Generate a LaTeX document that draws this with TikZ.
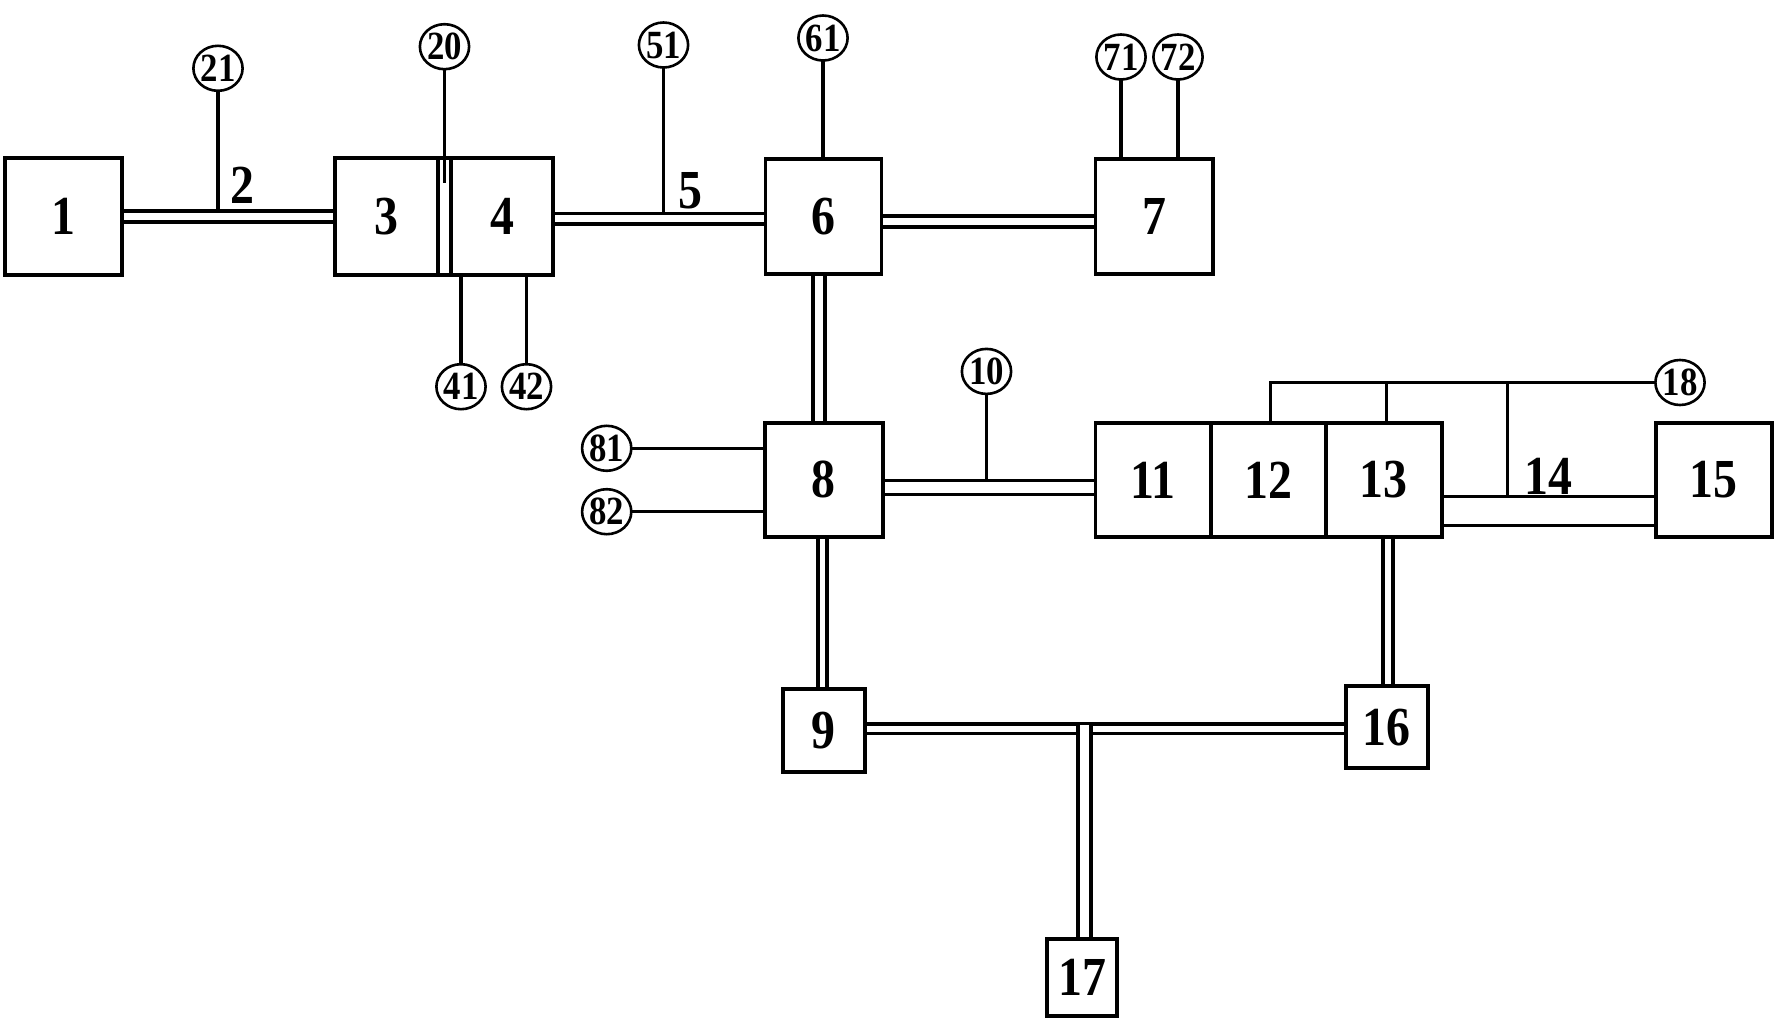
\documentclass[tikz,border=0pt]{standalone}
\usepackage{fontspec}
\usetikzlibrary{backgrounds,shapes.geometric}
\newfontfamily\numfont[FakeStretch=0.87]{Liberation Serif}
\newcommand\bignumfont{\numfont\bfseries\fontsize{55}{60}\selectfont}
\newcommand\smallnumfont{\numfont\bfseries\fontsize{40}{42}\selectfont}
\begin{document}
\begin{tikzpicture}[x=1pt,y=-1pt,
  box/.style={draw, line width=3.8pt, inner sep=0pt, outer sep=0pt, font=\bignumfont},
  circ/.style={ellipse, draw, line width=2.6pt, minimum width=48.5pt, minimum height=45pt, inner sep=0pt, outer sep=0pt, font=\smallnumfont},
  wire/.style={line width=3.4pt},
  rail/.style={line width=3.7pt, double=white, double distance=#1},
  rail/.default=7pt,
  lbl/.style={inner sep=0pt, font=\bignumfont}]
\useasboundingbox (0,0) rectangle (1786,1024);

% boxes
\node[box, minimum width=117pt, minimum height=116.7pt] (b1) at (63.2,216.7) {1};
\node[box, minimum width=103pt, minimum height=116.7pt] (b3) at (386.5,216.7) {3};
\node[box, minimum width=102pt, minimum height=116.7pt] (b4) at (502,216.7) {4};
\node[box, minimum width=116pt, minimum height=115pt] (b6) at (823.5,216.5) {6};
\node[box, minimum width=117.4pt, minimum height=115pt] (b7) at (1154.1,216.5) {7};
\node[box, minimum width=117.7pt, minimum height=114pt] (b8) at (823.9,479.7) {8};
\node[box, minimum width=115.6pt, minimum height=114.3pt] (b11) at (1153.2,479.9) {11};
\node[box, minimum width=115pt, minimum height=114.3pt] (b12) at (1268.5,479.9) {12};
\node[box, minimum width=115.7pt, minimum height=114.3pt] (b13) at (1383.9,479.9) {13};
\node[box, minimum width=115.7pt, minimum height=114.6pt] (b15) at (1713.9,480) {15};
\node[box, minimum width=82.3pt, minimum height=82.4pt] (b9) at (823.9,730.5) {9};
\node[box, minimum width=82pt, minimum height=82.3pt] (b16) at (1386.7,727.2) {16};
\node[box, minimum width=70pt, minimum height=76.7pt] (b17) at (1082.3,977.7) {17};

% circled reference numbers
\node[circ] (c21) at (218,68.3) {21};
\node[circ] (c20) at (444.5,46.7) {20};
\node[circ] (c41) at (461,386.7) {41};
\node[circ] (c42) at (526.5,386.7) {42};
\node[circ] (c51) at (663.5,45) {51};
\node[circ] (c61) at (823,38) {61};
\node[circ] (c71) at (1121,57) {71};
\node[circ] (c72) at (1178,57) {72};
\node[circ] (c10) at (986.5,371.4) {10};
\node[circ] (c81) at (606.7,448.3) {81};
\node[circ] (c82) at (606.7,511.7) {82};
\node[circ] (c18) at (1680,382.5) {18};

% free labels
\node[lbl] (l2) at (242,185) {2};
\node[lbl] (l5) at (690.4,191) {5};
\node[lbl] (l14) at (1548,476.7) {14};

% junction points
\coordinate (k1) at (1270.6,382.5);
\coordinate (k2) at (1386.6,382.5);
\coordinate (k3) at (1507.5,382.5);
\coordinate (tj) at (1084.5,725.3);

\begin{scope}[on background layer]
  % double connectors
  \draw[rail=7pt] (b1.east) -- (b3.west);
  \draw[rail=7pt] (b4.east |- 0,219) -- (b6.west |- 0,219);
  \draw[rail=7pt] (b6.east |- 0,221.4) -- (b7.west |- 0,221.4);
  \draw[rail=8pt] (b6.south -| 819,0) -- (b8.north -| 819,0);
  \draw[rail=5pt] (b8.south -| 822.5,0) -- (b9.north -| 822.5,0);
  \draw[rail=10.5pt] (b8.east |- 0,487.5) -- (b11.west |- 0,487.5);
  \draw[rail=6pt] (b13.south -| 1388,0) -- (b16.north -| 1388,0);
  \draw[rail=5.7pt] (b9.east |- 0,728.7) -- (b16.west |- 0,728.7);
  \draw[rail=8.7pt] (tj) -- (tj |- b17.north);
  % joint between 3 and 4
  \draw[line width=3.8pt] (b3.north east) -- (b4.north west);
  \draw[line width=3.8pt] (b3.south east) -- (b4.south west);
  % single leads
  \draw[wire] (c21.south) -- (c21.south |- 0,211);
  \draw[wire] (c20.south) -- (c20.south |- 0,183.3);
  \draw[wire] (c41.north) -- (c41.north |- b4.south);
  \draw[wire] (c42.north) -- (c42.north |- b4.south);
  \draw[wire] (c51.south) -- (c51.south |- 0,214.5);
  \draw[wire] (c61.south) -- (c61.south |- b6.north);
  \draw[wire] (c71.south) -- (c71.south |- b7.north);
  \draw[wire] (c72.south) -- (c72.south |- b7.north);
  \draw[wire] (c10.south) -- (c10.south |- 0,481);
  \draw[wire] (c81.east) -- (c81.east -| b8.west);
  \draw[wire] (c82.east) -- (c82.east -| b8.west);
  \draw[wire] (c18.west) -- (k1) -- (k1 |- b12.north);
  \draw[wire] (k2) -- (k2 |- b13.north);
  \draw[wire] (k3) -- (k3 |- 0,496.7);
  \draw[wire] (b13.east |- 0,496.7) -- (b15.west |- 0,496.7);
  \draw[wire] (b13.east |- 0,525.5) -- (b15.west |- 0,525.5);
\end{scope}
\end{tikzpicture}
\end{document}
